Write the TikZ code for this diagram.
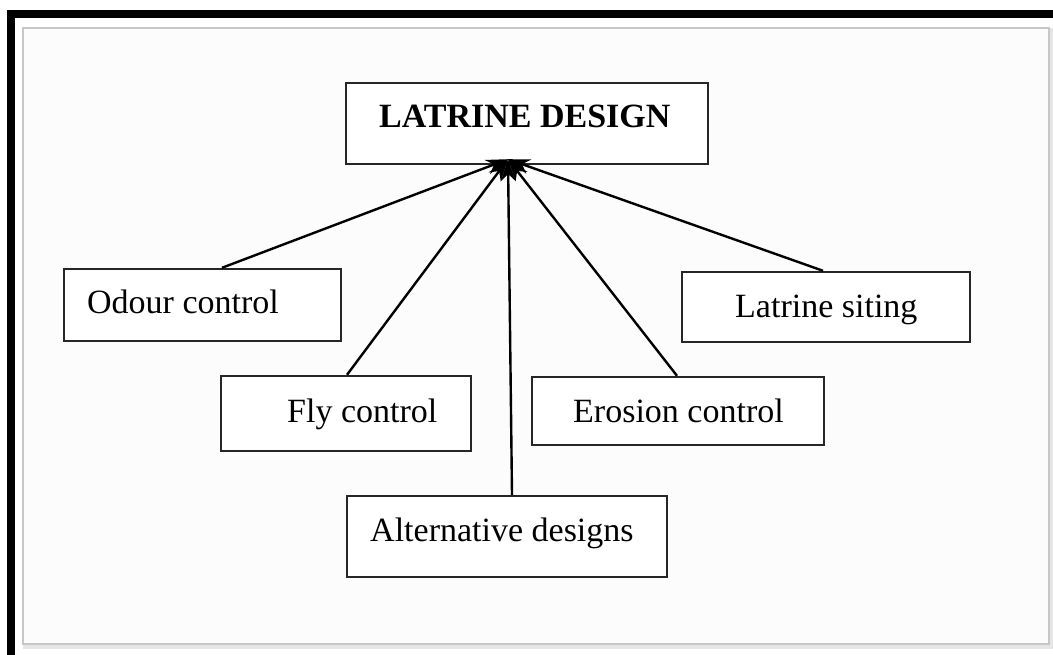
\documentclass[tikz,border=0pt]{standalone}
\usepackage{fontspec}
\setmainfont{Liberation Serif}
\usetikzlibrary{arrows.meta}
\begin{document}
\begin{tikzpicture}[x=1pt,y=-1pt,
  box/.style={draw=black!85, line width=2.4pt, fill=white, inner sep=0pt},
  txt/.style={inner sep=0pt, anchor=base west, font=\fontsize{34}{40}\selectfont, text=black},
  link/.style={line width=2.4pt, black, -{Stealth[length=22pt,width=15pt]}}]
  \useasboundingbox (0,0) rectangle (1053,655);
  \fill[white] (0,0) rectangle (1053,655);
  % heavy black frame along the top and the left side
  \fill[black] (7,10) rectangle (1053,18);
  \fill[black] (7,10) rectangle (15,655);
  % light panel with a soft grey edge
  \draw[black!10, line width=4pt] (25,30) rectangle (1051,647);
  \draw[black!22, fill=black!1, line width=1.6pt] (23,28) rectangle (1049,644);

  % boxes
  \node[box, minimum width=362pt, minimum height=81pt] (design) at (527,123.5) {};
  \node[txt, font=\fontsize{34}{40}\selectfont\bfseries] at (379,128) {LATRINE DESIGN};

  \node[box, minimum width=277pt, minimum height=72pt] (odour) at (202.5,305) {};
  \node[txt] at (87,313) {Odour control};

  \node[box, minimum width=250pt, minimum height=75pt] (fly) at (346,413.5) {};
  \node[txt] at (287,422) {Fly control};

  \node[box, minimum width=292pt, minimum height=68pt] (erosion) at (678,411) {};
  \node[txt] at (573,422) {Erosion control};

  \node[box, minimum width=288pt, minimum height=70pt] (siting) at (826,307) {};
  \node[txt] at (735,317) {Latrine siting};

  \node[box, minimum width=320pt, minimum height=81pt] (alt) at (507,536.5) {};
  \node[txt] at (370,541) {Alternative designs};

  % point where all arrows meet, just below the top box
  \coordinate (tip) at ([xshift=-19pt,yshift=6pt]design.south);

  % connectors
  \draw[link] ([xshift=19.5pt]odour.north) -- (tip);
  \draw[link] ([xshift=1pt]fly.north) -- (tip);
  \draw[link] ([xshift=5pt]alt.north) -- (tip);
  \draw[link] ([xshift=-1pt]erosion.north) -- (tip);
  \draw[link] ([xshift=-3pt]siting.north) -- (tip);
\end{tikzpicture}
\end{document}
